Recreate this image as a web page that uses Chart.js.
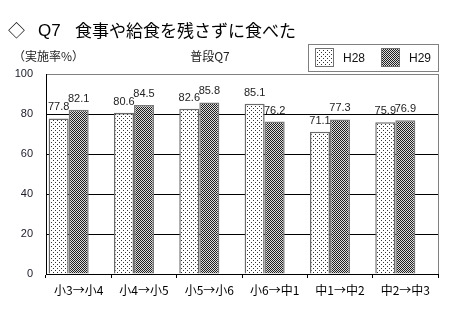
<!DOCTYPE html>
<html><head><meta charset="utf-8">
<script src="https://cdn.jsdelivr.net/npm/chart.js@4/dist/chart.umd.min.js"></script>
<style>html,body{margin:0;padding:0;background:#fff;}#wrap{width:450px;height:320px;position:relative;}</style>
</head><body><div id="wrap"><canvas id="c" width="450" height="320"></canvas></div>
<script>
const categories = ['小3→小4','小4→小5','小5→小6','小6→中1','中1→中2','中2→中3'];
const seriesNames = ['H28','H29'];
const h28 = [77.8, 80.6, 82.6, 85.1, 71.1, 75.9];
const h29 = [82.1, 84.5, 85.8, 76.2, 77.3, 76.9];
const yTicks = [0, 20, 40, 60, 80, 100];
const titleText = '食事や給食を残さずに食べた';
const subTitle = '普段Q7';
const unitText = '（実施率%）';

function makePattern(kind){
  const t = document.createElement('canvas');
  const g = t.getContext('2d');
  if(kind==='dots'){
    t.width=4; t.height=4;
    g.fillStyle='#fff'; g.fillRect(0,0,4,4);
    g.fillStyle='#333';
    g.fillRect(1,0,1,1); g.fillRect(3,2,1,1);
  } else {
    t.width=2; t.height=2;
    g.fillStyle='#dcdcdc'; g.fillRect(0,0,2,2);
    g.fillStyle='#202020';
    g.fillRect(0,0,1,1); g.fillRect(1,1,1,1);
  }
  return g.createPattern(t,'repeat');
}
const pDots = makePattern('dots');
const pDark = makePattern('dark');

const FONT_JP = '"Noto Sans CJK JP", "Noto Sans", sans-serif';
const FONT_NUM = '"Liberation Sans", Arial, sans-serif';

const decor = {
  id:'decor',
  afterDraw(chart){
    const ctx = chart.ctx, a = chart.chartArea;
    ctx.save();
    ctx.strokeStyle='#808080'; ctx.lineWidth=1;
    ctx.beginPath(); ctx.moveTo(Math.round(a.right)+0.5, a.top); ctx.lineTo(Math.round(a.right)+0.5, a.bottom); ctx.stroke();
    ctx.fillStyle='#000'; ctx.textBaseline='middle'; ctx.textAlign='left';
    ctx.font='17px '+FONT_JP;
    ctx.fillText('◇', 8, 31);
    ctx.font='17px '+FONT_NUM;
    ctx.fillText('Q7', 38, 31);
    ctx.font='17px '+FONT_JP;
    ctx.fillText(titleText, 75, 31);
    ctx.font='12px '+FONT_JP; ctx.fillStyle='#222';
    ctx.fillText(unitText, 13, 56);
    ctx.textAlign='center';
    ctx.fillText(subTitle, 210, 56);
    ctx.strokeStyle='#808080'; ctx.lineWidth=1;
    ctx.strokeRect(308.5, 44.5, 130, 27);
    const sw=[[315,pDots],[381,pDark]];
    sw.forEach((s,i)=>{
      ctx.fillStyle=s[1]; ctx.fillRect(s[0],48,18,19);
      ctx.strokeStyle='#707070'; ctx.strokeRect(s[0]+0.5,48.5,18,18);
      ctx.fillStyle='#111'; ctx.textAlign='left'; ctx.font='12px '+FONT_NUM;
      ctx.fillText(seriesNames[i], s[0]+28, 58.5);
    });
    ctx.font='11px '+FONT_NUM; ctx.fillStyle='#222'; ctx.textAlign='center'; ctx.textBaseline='middle';
    [0,1].forEach(di=>{
      const meta = chart.getDatasetMeta(di);
      meta.data.forEach((el,i)=>{
        const v = chart.data.datasets[di].data[i];
        ctx.fillText(v.toFixed(1), el.x, el.y-11);
      });
    });
    ctx.restore();
  }
};

new Chart(document.getElementById('c'), {
  type:'bar',
  data:{
    labels:categories,
    datasets:[
      {label:seriesNames[0], data:h28, backgroundColor:pDots, borderColor:'#6a6a6a', borderWidth:1.5},
      {label:seriesNames[1], data:h29, backgroundColor:pDark, borderColor:'#7a7a7a', borderWidth:1.5},
      {label:'', data:categories.map(()=>null), backgroundColor:'rgba(0,0,0,0)'}
    ]
  },
  options:{
    responsive:false, animation:false, devicePixelRatio:1,
    layout:{padding:{left:0,right:12,top:74,bottom:0}},
    plugins:{legend:{display:false}, title:{display:false}, tooltip:{enabled:false}},
    datasets:{bar:{categoryPercentage:0.92, barPercentage:1.0}},
    scales:{
      x:{
        offset:true,
        grid:{offset:true, drawOnChartArea:false, drawTicks:true, tickLength:4, color:'#000'},
        border:{color:'#000', width:1},
        ticks:{color:'#000', font:{family:FONT_JP, size:12}, padding:5, maxRotation:0, autoSkip:false},
        afterFit(s){ s.height = 46; }
      },
      y:{
        min:0, max:100,
        afterBuildTicks(s){ s.ticks = yTicks.map(v=>({value:v})); },
        grid:{drawTicks:false, color:(c)=> c.tick && c.tick.value===100 ? '#808080' : '#000'},
        border:{color:'#000', width:1},
        ticks:{color:'#1a1a2a', font:{family:FONT_NUM, size:11}, padding:13},
        afterFit(s){ s.width = 46; }
      }
    }
  },
  plugins:[decor]
});
</script></body></html>
